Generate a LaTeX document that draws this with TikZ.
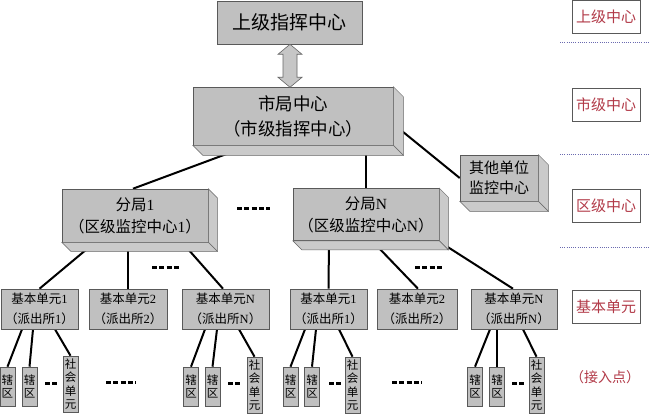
\documentclass[tikz,border=0pt]{standalone}
\usepackage{fontspec}
\setmainfont{Noto Sans CJK SC}
\newfontfamily\latf{Liberation Serif}
\usetikzlibrary{calc,backgrounds}
\newcommand\ltn[1]{{\latf #1}}
\definecolor{legred}{HTML}{B23A48}
\definecolor{dotblue}{HTML}{6A6AB0}
\definecolor{facegray}{HTML}{C0C0C0}
\definecolor{sidegray}{HTML}{CACACA}
\newcommand\extrude[2]{%
  \filldraw[sideface] (#1.north east) -- ++(#2,#2) -- ($(#1.south east)+(#2,#2)$) -- (#1.south east) -- cycle;
  \filldraw[sideface] (#1.south west) -- ++(#2,#2) -- ($(#1.south east)+(#2,#2)$) -- (#1.south east) -- cycle;
}
\begin{document}
\begin{tikzpicture}[x=1pt,y=-1pt,
  face/.style={draw=black!65, fill=facegray, line width=0.6pt, inner sep=0pt, align=center},
  sideface/.style={draw=black!60, fill=sidegray, line width=0.5pt},
  unitbox/.style={face, minimum height=40, font=\fontsize{12.5}{20}\selectfont},
  smallbox/.style={face, minimum width=15, font=\fontsize{11.5}{13.5}\selectfont},
  legbox/.style={draw=black!65, line width=0.6pt, minimum width=68, minimum height=33, inner sep=0pt, text=legred, font=\fontsize{15}{18}\selectfont},
  conn/.style={line width=2pt, black},
  dotsep/.style={dotblue, line width=1pt, dash pattern=on 1pt off 1.2pt},
  gap/.style={line width=3pt, black, dash pattern=on 5pt off 2.3pt}]
\useasboundingbox (0,0) rectangle (650,414);

% top
\node[face, minimum width=145, minimum height=43, font=\fontsize{19}{23}\selectfont] (top) at (289.5,22.5) {上级指挥中心};
% city centre
\node[face, minimum width=200, minimum height=58, font=\fontsize{17.5}{25}\selectfont] (sj) at (293,116) {市局中心\\（市级指挥中心）};
\extrude{sj}{10}
% double arrow
\filldraw[fill=gray!45, draw=black!60, line width=0.6pt] ([xshift=0.5pt]top.south) -- ++(12,10) -- ++(-5,0) -- ++(0,23) -- ++(5,0) -- ++(-12,10) -- ++(-12,-10) -- ++(5,0) -- ++(0,-23) -- ++(-5,0) -- cycle;

% district centres
\node[face, minimum width=146, minimum height=53, font=\fontsize{15.5}{22}\selectfont] (fj1) at (135,215.5) {分局\ltn{1}\\（区级监控中心\ltn{1}）};
\extrude{fj1}{9}
\node[face, minimum width=146, minimum height=52, font=\fontsize{15.5}{22}\selectfont] (fjn) at (366,214.5) {分局\ltn{N}\\（区级监控中心\ltn{N}）};
\extrude{fjn}{9}
\node[face, minimum width=78, minimum height=46, font=\fontsize{15}{20}\selectfont] (qt) at (499,178) {其他单位\\监控中心};
\extrude{qt}{10}

% basic units
\node[unitbox, minimum width=77] (b11) at (39.5,309) {基本单元\ltn{1}\\（派出所\ltn{1}）};
\node[unitbox, minimum width=78] (b12) at (128,309) {基本单元\ltn{2}\\（派出所\ltn{2}）};
\node[unitbox, minimum width=87] (b1n) at (225.5,309) {基本单元\ltn{N}\\（派出所\ltn{N}）};
\node[unitbox, minimum width=77] (bn1) at (328.5,309) {基本单元\ltn{1}\\（派出所\ltn{1}）};
\node[unitbox, minimum width=80] (bn2) at (417,309) {基本单元\ltn{2}\\（派出所\ltn{2}）};
\node[unitbox, minimum width=86] (bnn) at (514,309) {基本单元\ltn{N}\\（派出所\ltn{N}）};

% access points
\node[smallbox, minimum height=39] (x11) at (7.5,386.5) {辖\\区};
\node[smallbox, minimum height=39] (x12) at (29.5,386.5) {辖\\区};
\node[smallbox, minimum height=56] (s1) at (70.5,384) {社\\会\\单\\元};
\node[smallbox, minimum height=39] (x21) at (191,386.5) {辖\\区};
\node[smallbox, minimum height=39] (x22) at (212.5,386.5) {辖\\区};
\node[smallbox, minimum height=56] (s2) at (254.5,385) {社\\会\\单\\元};
\node[smallbox, minimum height=39] (x31) at (290.5,386.5) {辖\\区};
\node[smallbox, minimum height=39] (x32) at (312,386.5) {辖\\区};
\node[smallbox, minimum height=56] (s3) at (352.5,385) {社\\会\\单\\元};
\node[smallbox, minimum height=39] (x41) at (475,386.5) {辖\\区};
\node[smallbox, minimum height=39] (x42) at (497,386.5) {辖\\区};
\node[smallbox, minimum height=56] (s4) at (536.5,385) {社\\会\\单\\元};

% connectors
\begin{pgfonlayer}{background}
\fill[white] (0,0) rectangle (650,414);
\draw[conn] ([xshift=-43pt]sj.south) -- ([xshift=-2pt]fj1.north);
\draw[conn] ([xshift=73pt]sj.south) -- (fjn.north);
\draw[conn] ([yshift=-8pt]sj.east) -- (qt.west);
\draw[conn] ([xshift=-40pt]fj1.south) -- (b11.north);
\draw[conn] ([xshift=-7pt]fj1.south) -- (b12.north);
\draw[conn] ([xshift=47pt]fj1.south) -- ([xshift=-2.5pt]b1n.north);
\draw[conn] ([xshift=-37pt]fjn.south) -- (bn1.north);
\draw[conn] ([xshift=6pt]fjn.south) -- ([xshift=1pt]bn2.north);
\draw[conn] ([xshift=72pt]fjn.south) -- ([xshift=-1pt]bnn.north);
\draw[conn] ([xshift=-17.5pt]b11.south) -- (x11.north);
\draw[conn] ([xshift=-6.5pt]b11.south) -- (x12.north);
\draw[conn] ([xshift=15.5pt]b11.south) -- (s1.north);
\draw[conn] ([xshift=-20.5pt]b1n.south) -- (x21.north);
\draw[conn] ([xshift=-8.5pt]b1n.south) -- (x22.north);
\draw[conn] ([xshift=13.5pt]b1n.south) -- (s2.north);
\draw[conn] ([xshift=-23.5pt]bn1.south) -- (x31.north);
\draw[conn] ([xshift=-12.5pt]bn1.south) -- (x32.north);
\draw[conn] ([xshift=10.5pt]bn1.south) -- (s3.north);
\draw[conn] ([xshift=-24pt]bnn.south) -- (x41.north);
\draw[conn] ([xshift=-17pt]bnn.south) -- (x42.north);
\draw[conn] ([xshift=9pt]bnn.south) -- (s4.north);
\end{pgfonlayer}

% ellipsis dashes
\draw[gap] (237,208) -- (270,208);
\draw[gap] (152,267) -- (180,267);
\draw[gap] (415,267) -- (443,267);
\draw[gap] (45,383) -- (57,383);
\draw[gap] (106,382) -- (136,382);
\draw[gap] (228,383) -- (240,383);
\draw[gap] (329,383) -- (341,383);
\draw[gap] (392,382) -- (422,382);
\draw[gap] (512,383) -- (524,383);

% legend
\node[legbox] (l1) at (606,17) {上级中心};
\node[legbox] (l2) at (606,105) {市级中心};
\node[legbox] (l3) at (606,205.5) {区级中心};
\node[legbox] (l4) at (606,306.5) {基本单元};
\node[text=legred, font=\fontsize{14}{17}\selectfont, inner sep=0pt] (l5) at (605,377) {（接入点）};
\draw[dotsep] (560,43) -- (650,43);
\draw[dotsep] (560,155) -- (650,155);
\draw[dotsep] (560,247) -- (650,247);
\end{tikzpicture}
\end{document}
